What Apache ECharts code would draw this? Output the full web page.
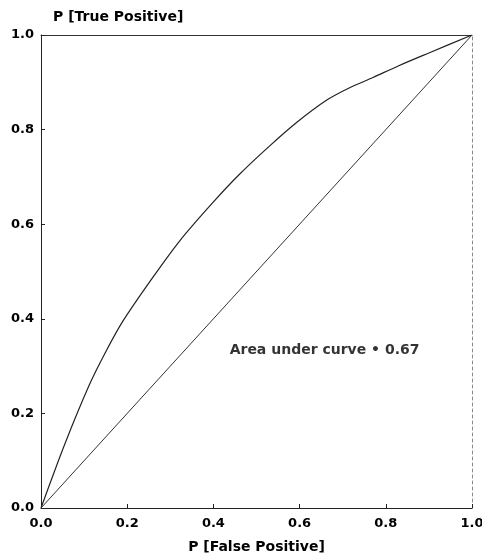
<!DOCTYPE html>
<html>
<head>
<meta charset="utf-8">
<script src="https://cdn.jsdelivr.net/npm/echarts@6/dist/echarts.min.js"></script>
<style>html,body{margin:0;padding:0;background:#fff}#c{width:482px;height:557px}</style>
</head>
<body>
<div id="c"></div>
<script>
var rocFP = [0, 0.056, 0.113, 0.15, 0.19, 0.259, 0.322, 0.398, 0.46, 0.53, 0.593, 0.664, 0.715, 0.77, 0.83, 0.9, 1.0];
var rocTP = [0, 0.137, 0.262, 0.33, 0.395, 0.487, 0.565, 0.645, 0.705, 0.765, 0.815, 0.863, 0.888, 0.91, 0.935, 0.962, 1.0];
var chanceFP = [0, 1];
var chanceTP = [0, 1];
var tickLabels = ['0.0', '0.2', '0.4', '0.6', '0.8', '1.0'];
var annotationText = 'Area under curve \u2022 0.67';
var annotationPos = [0.44, 0.334];
var xTitle = 'P [False Positive]';
var yTitle = 'P [True Positive]';

var chart = echarts.init(document.getElementById('c'));
var font = '"DejaVu Sans", sans-serif';
function pairs(a, b) { return a.map(function (v, i) { return [v, b[i]]; }); }
var txt = { color: '#000', fontSize: 14, fontFamily: font, fontWeight: 'bold' };
var tickTxt = { color: '#000', fontSize: 13, fontFamily: font, fontWeight: 'bold' };
chart.setOption({
  animation: false,
  backgroundColor: '#fff',
  grid: { left: 41, right: 10, top: 35, bottom: 49, outerBoundsMode: 'none', containLabel: false },
  xAxis: [{
    type: 'value', min: 0, max: 1, interval: 0.2, position: 'bottom',
    name: xTitle, nameLocation: 'middle', nameGap: 32,
    nameTextStyle: txt,
    axisLine: { onZero: false, lineStyle: { color: '#222', width: 1 } },
    axisTick: { inside: true, length: 4, lineStyle: { color: '#222' } },
    axisLabel: Object.assign({ margin: 9, formatter: function (v) { return tickLabels[Math.round(v * 5)]; } }, tickTxt),
    splitLine: { show: false }
  }, {
    type: 'value', min: 0, max: 1, position: 'top',
    axisLine: { onZero: false, lineStyle: { color: '#333', width: 1 } },
    axisTick: { show: false }, axisLabel: { show: false }, splitLine: { show: false }
  }],
  yAxis: [{
    type: 'value', min: 0, max: 1, interval: 0.2, position: 'left',
    name: yTitle, nameLocation: 'end', nameGap: 11,
    nameTextStyle: Object.assign({ align: 'left', padding: [0, 0, 0, 12] }, txt),
    axisLine: { onZero: false, lineStyle: { color: '#222', width: 1 } },
    axisTick: { inside: true, length: 4, lineStyle: { color: '#222' } },
    axisLabel: Object.assign({ margin: 7, formatter: function (v) { return tickLabels[Math.round(v * 5)]; } }, tickTxt),
    splitLine: { show: false }
  }, {
    type: 'value', min: 0, max: 1, position: 'right',
    axisLine: { onZero: false, lineStyle: { color: '#888', width: 1, type: [3, 3] } },
    axisTick: { show: false }, axisLabel: { show: false }, splitLine: { show: false }
  }],
  series: [{
    type: 'line', data: pairs(rocFP, rocTP), smooth: 0.3, symbol: 'none',
    lineStyle: { color: '#222', width: 1.2 }
  }, {
    type: 'line', data: pairs(chanceFP, chanceTP), symbol: 'none',
    lineStyle: { color: '#333', width: 1 }
  }, {
    type: 'scatter', data: [annotationPos], symbolSize: 0,
    label: Object.assign({ show: true, position: 'right', offset: [-6, 0], formatter: annotationText }, txt)
  }]
});
</script>
</body>
</html>
